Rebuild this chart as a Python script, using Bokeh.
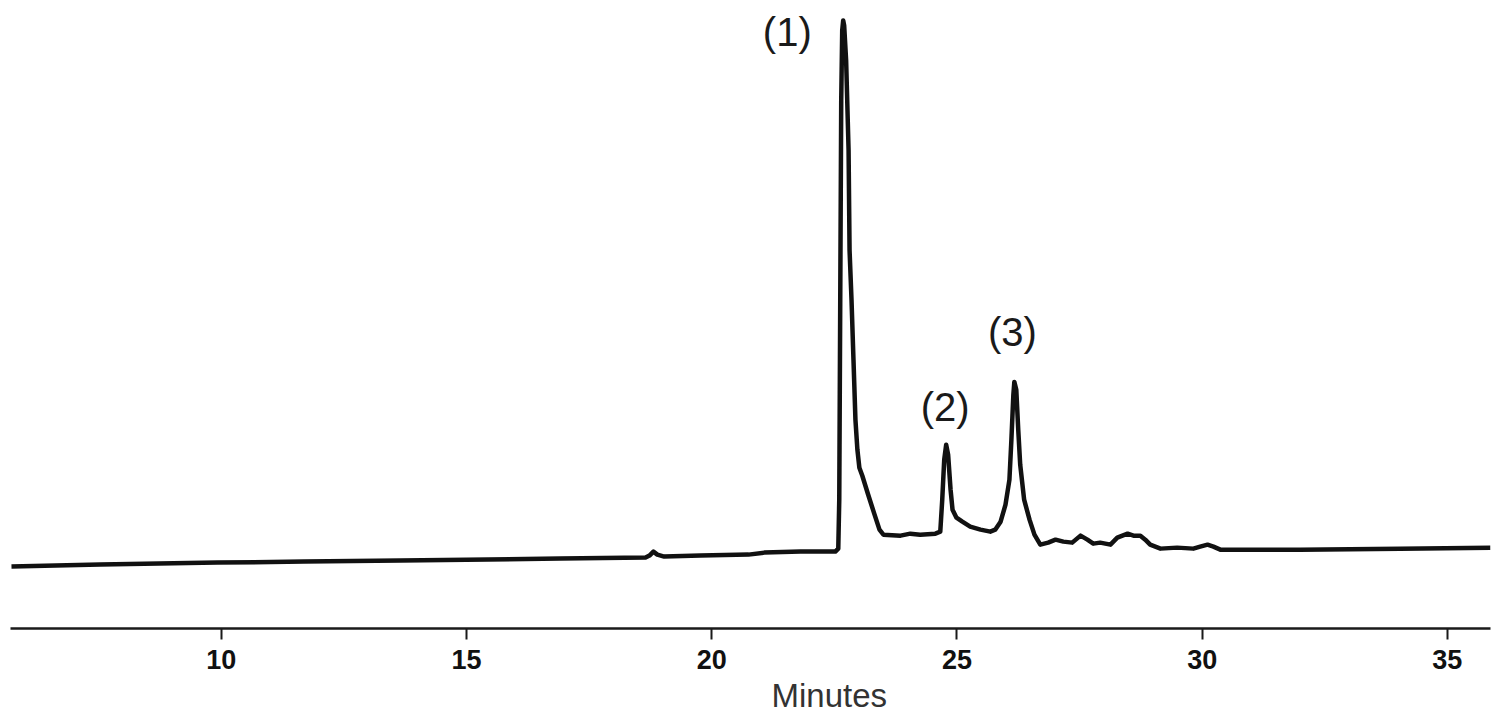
from bokeh.plotting import figure
from bokeh.models import Range1d, FixedTicker, Label, Title
from bokeh.embed import file_html
from bokeh.resources import INLINE

# Chromatogram trace: retention time (min) and detector signal (arb. units)
time_min = [5.72, 7.53, 9.92, 11.69, 13.65, 15.44, 16.91, 18.65, 18.73, 18.81, 18.89, 19.03,
            19.77, 20.75, 21.07, 21.81, 22.52, 22.58, 22.60, 22.62, 22.64, 22.66, 22.68, 22.70,
            22.74, 22.79, 22.81, 22.85, 22.89, 22.93, 22.97, 23.01, 23.07, 23.19, 23.32, 23.42,
            23.50, 23.85, 24.05, 24.25, 24.56, 24.66, 24.70, 24.74, 24.78, 24.82, 24.87, 24.91,
            24.99, 25.11, 25.27, 25.48, 25.68, 25.78, 25.89, 25.99, 26.07, 26.11, 26.15, 26.17,
            26.21, 26.25, 26.29, 26.37, 26.48, 26.58, 26.70, 26.86, 27.01, 27.17, 27.35, 27.52,
            27.66, 27.78, 27.92, 28.13, 28.27, 28.48, 28.60, 28.74, 28.84, 28.94, 29.15, 29.49,
            29.82, 29.96, 30.11, 30.23, 30.37, 30.92, 32.00, 34.04, 35.88]
signal = [6.2, 6.4, 6.6, 6.7, 6.8, 6.9, 7.0, 7.1, 7.3, 7.7, 7.4, 7.2,
          7.3, 7.4, 7.6, 7.7, 7.7, 8.0, 12.9, 32.9, 52.9, 59.9, 60.9, 60.4,
          56.9, 47.9, 37.9, 32.9, 26.9, 20.9, 17.9, 16.1, 15.3, 13.4, 11.4, 9.9,
          9.4, 9.3, 9.5, 9.4, 9.5, 9.7, 12.9, 16.9, 18.4, 17.4, 13.9, 11.9,
          11.1, 10.7, 10.2, 9.9, 9.7, 9.9, 10.7, 12.4, 14.9, 18.9, 23.4, 24.7,
          23.9, 19.9, 16.4, 12.9, 10.9, 9.4, 8.4, 8.6, 8.9, 8.7, 8.6, 9.3,
          8.9, 8.5, 8.6, 8.4, 9.1, 9.5, 9.3, 9.3, 8.9, 8.4, 8.0, 8.1,
          8.0, 8.2, 8.4, 8.2, 7.9, 7.9, 7.9, 8.0, 8.1]

# Peak annotations (label text and where it sits, in data units)
peak_labels = ["(1)", "(2)", "(3)"]
peak_label_time = [21.54, 24.76, 26.13]
peak_label_signal = [59.7, 22.2, 29.7]

tick_values = [10, 15, 20, 25, 30, 35]
x_title = "Minutes"

p = figure(width=1492, height=716, output_backend="svg", toolbar_location=None,
           x_range=Range1d(5.70, 35.88), y_range=Range1d(0, 62.9),
           min_border_left=10, min_border_right=2, min_border_top=0, min_border_bottom=87)
p.background_fill_color = "white"
p.border_fill_color = "white"
p.outline_line_color = None
p.xgrid.visible = False
p.ygrid.visible = False
p.yaxis.visible = False

p.line(time_min, signal, line_color="#111111", line_width=4.5, line_join="round")

ax = p.xaxis[0]
ax.ticker = FixedTicker(ticks=tick_values)
ax.minor_tick_line_color = None
ax.axis_line_color = "#1a1a1a"
ax.axis_line_width = 2.5
ax.major_tick_line_color = "#1a1a1a"
ax.major_tick_line_width = 2
ax.major_tick_in = 0
ax.major_tick_out = 11
ax.major_label_standoff = 10
ax.major_label_text_font = "Liberation Sans"
ax.major_label_text_font_style = "bold"
ax.major_label_text_font_size = "27px"
ax.major_label_text_color = "#111111"

for txt, tx, ty in zip(peak_labels, peak_label_time, peak_label_signal):
    p.add_layout(Label(x=tx, y=ty, text=txt, text_align="center", text_baseline="middle",
                       text_font="Liberation Sans", text_font_size="40px", text_color="#1a1a1a"))

p.add_layout(Title(text=x_title, align="left", offset=761, standoff=6,
                   text_font="Liberation Sans", text_font_size="33px",
                   text_font_style="normal", text_color="#333333"), "below")

open("out.html", "w").write(file_html(p, INLINE))
